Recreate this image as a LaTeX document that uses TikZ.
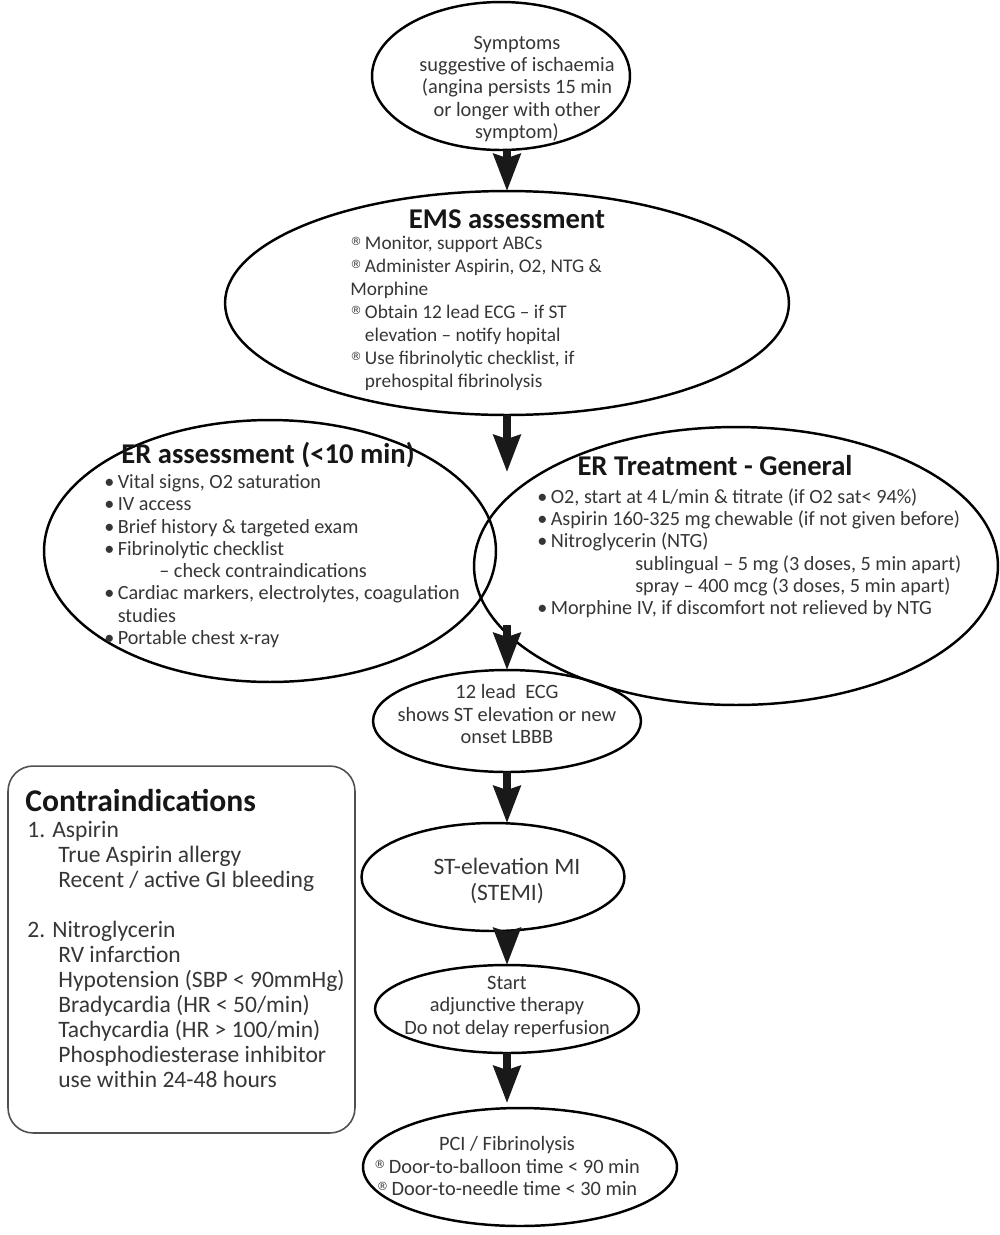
\documentclass[tikz,border=0pt]{standalone}
\usepackage{fontspec}
\setmainfont{Carlito}
\newfontfamily\symfont{DejaVu Sans}
\usetikzlibrary{shapes.geometric,arrows.meta}
\definecolor{txt}{HTML}{363636}
\definecolor{ttlc}{HTML}{161616}
\definecolor{boxline}{HTML}{505050}
% small raised registered-sign bullet and its blank twin for indents
\newcommand{\regb}{\raisebox{0.45ex}{\symfont\fontsize{6.5}{6.5}\selectfont ®}\,}
\newcommand{\regi}{\hphantom{\regb}}
\newcommand{\dotb}{\textbullet\,}
\newcommand{\doti}{\hphantom{\dotb}}
\begin{document}
\begin{tikzpicture}[x=0.02cm,y=-0.02cm,
  ell/.style={draw=black,line width=1.4pt,ellipse,inner sep=0pt,outer sep=0pt},
  body/.style={text=txt,inner sep=0pt,align=left,font=\fontsize{11.5}{12.7}\selectfont},
  cbody/.style={text=txt,inner sep=0pt,align=center,font=\fontsize{11.6}{12.6}\selectfont},
  ttl/.style={text=ttlc,inner sep=0pt,font=\fontsize{16.3}{19}\selectfont\bfseries},
  bigarrow/.style={line width=4pt,draw=black!90,-{Stealth[length=0.74cm,width=0.54cm,inset=0.08cm]}}
]
\useasboundingbox (0,0) rectangle (1000,1235);

% ---------- ellipses ----------
\node[ell,minimum width=5.16cm,minimum height=2.96cm] (top) at (501,76) {};
\node[ell,minimum width=11.28cm,minimum height=4.48cm] (ems) at (507,303) {};
\node[ell,minimum width=9.04cm,minimum height=5.24cm] (era) at (270,551) {};
\node[ell,minimum width=10.48cm,minimum height=5.56cm] (ert) at (736,566) {};
\node[ell,minimum width=5.36cm,minimum height=2.04cm] (ecg) at (507,721) {};
\node[ell,minimum width=5.26cm,minimum height=2.16cm] (stemi) at (493,877) {};
\node[ell,minimum width=5.28cm,minimum height=1.76cm] (start) at (507,1009) {};
\node[ell,minimum width=6.28cm,minimum height=2.36cm] (pci) at (520,1167) {};

% ---------- contraindications box ----------
\node[draw=boxline,line width=0.9pt,rounded corners=0.5cm,minimum width=6.94cm,minimum height=7.34cm,inner sep=0pt] (contra) at (181.5,949.5) {};

% ---------- texts ----------
\node[cbody] (topT) at (517,89) {Symptoms\\suggestive of ischaemia\\(angina persists 15 min\\or longer with other\\symptom)};

\node[ttl] (emsT) at (507,219) {EMS assessment};
\node[body,anchor=north west,font=\fontsize{11}{13.1}\selectfont] (emsB) at (350,236) {\regb Monitor, support ABCs\\
\regb Administer Aspirin, O2, NTG \&\\
Morphine\\
\regb Obtain 12 lead ECG -- if ST\\
\regi elevation -- notify hopital\\
\regb Use fibrinolytic checklist, if\\
\regi prehospital fibrinolysis};

\node[ttl] (eraT) at (268,455) {ER assessment (<10 min)};
\node[body,anchor=north west] (eraB) at (104,474) {\dotb Vital signs, O2 saturation\\
\dotb IV access\\
\dotb Brief history \& targeted exam\\
\dotb Fibrinolytic checklist\\
\hspace*{1.1cm}-- check contraindications\\
\dotb Cardiac markers, electrolytes, coagulation\\
\doti studies\\
\dotb Portable chest x-ray};

\node[ttl] (ertT) at (715,466) {ER Treatment - General};
\node[body,anchor=north west] (ertB) at (537,488) {\dotb O2, start at 4 L/min \& titrate (if O2 sat< 94\%)\\
\dotb Aspirin 160-325 mg chewable (if not given before)\\
\dotb Nitroglycerin (NTG)\\
\hspace*{1.96cm}sublingual -- 5 mg (3 doses, 5 min apart)\\
\hspace*{1.96cm}spray -- 400 mcg (3 doses, 5 min apart)\\
\dotb Morphine IV, if discomfort not relieved by NTG};

\node[cbody] (ecgT) at (507,714) {12 lead\ \ ECG\\shows ST elevation or new\\onset LBBB};

\node[cbody,font=\fontsize{13.4}{14.8}\selectfont] (stemiT) at (507,881) {ST-elevation MI\\(STEMI)};

\node[cbody] (startT) at (507,1007) {Start\\adjunctive therapy\\Do not delay reperfusion};

\node[cbody] (pciT) at (507,1166) {PCI / Fibrinolysis\\\regb Door-to-balloon time < 90 min\\\regb Door-to-needle time < 30 min};

\node[ttl,anchor=west,font=\fontsize{18}{21}\selectfont\bfseries] (contraT) at (25,800) {Contraindications};
\node[body,anchor=north west,font=\fontsize{13.4}{14.2}\selectfont] (contraB) at (27,821) {1. Aspirin\\
\hspace*{0.62cm}True Aspirin allergy\\
\hspace*{0.62cm}Recent / active GI bleeding\\
\mbox{}\\
2. Nitroglycerin\\
\hspace*{0.62cm}RV infarction\\
\hspace*{0.62cm}Hypotension (SBP < 90mmHg)\\
\hspace*{0.62cm}Bradycardia (HR < 50/min)\\
\hspace*{0.62cm}Tachycardia (HR > 100/min)\\
\hspace*{0.62cm}Phosphodiesterase inhibitor\\
\hspace*{0.62cm}use within 24-48 hours};

% ---------- connectors ----------
\coordinate (split) at (507,472);
\coordinate (merge) at (507,625);
\coordinate (pcitip) at (507,1103);
\draw[bigarrow] (ems.north |- top.south) -- (ems.north);
\draw[bigarrow] (ems.south) -- (split);
\draw[bigarrow] (merge) -- (ecg.north);
\draw[bigarrow] (ecg.south) -- (ecg.south |- stemi.north);
\draw[bigarrow] (start.north |- stemi.south) -- (start.north);
\draw[bigarrow] (start.south) -- (pcitip);
\end{tikzpicture}
\end{document}
